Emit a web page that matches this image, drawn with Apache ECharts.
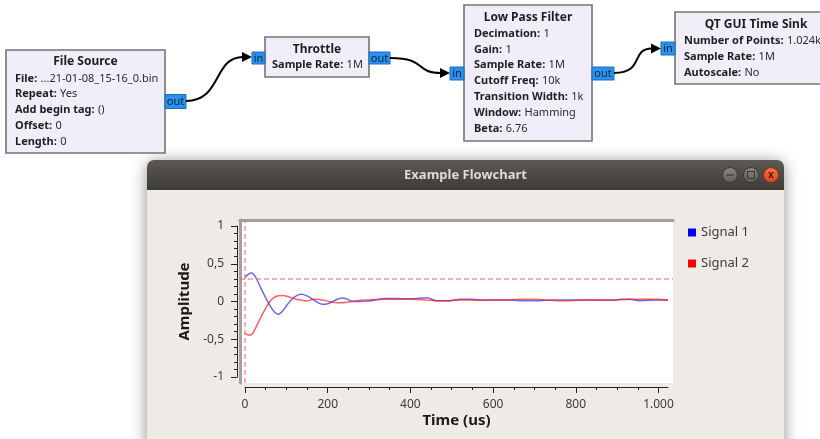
<!DOCTYPE html>
<html>
<head>
<meta charset="utf-8">
<title>Example Flowchart</title>
<script src="https://cdn.jsdelivr.net/npm/echarts@6/dist/echarts.min.js"></script>
<style>
  html, body { margin: 0; padding: 0; background: #fff; }
  #chart { width: 820px; height: 439px; }
</style>
</head>
<body>
<div id="chart"></div>
<script>
// time sink samples (time in us)
const times = [0, 8, 15, 25, 39, 50, 60, 70, 80, 92, 104, 120, 135, 150, 163, 175, 187, 200, 212, 224, 236, 248, 260, 278, 296, 315, 340, 365, 400, 440, 463, 496, 520, 544, 570, 600, 641, 665, 700, 729, 760, 782, 830, 883, 907, 930, 955, 995, 1023]
const signal1 = [0.32, 0.36, 0.377, 0.33, 0.17, 0.05, -0.05, -0.13, -0.17, -0.12, -0.03, 0.06, 0.095, 0.075, 0.03, -0.01, -0.037, -0.03, 0.0, 0.03, 0.045, 0.03, 0.0, 0.0, 0.005, 0.02, 0.04, 0.04, 0.035, 0.05, 0.01, 0.01, 0.03, 0.03, 0.02, 0.02, 0.02, 0.01, 0.01, 0.015, 0.02, 0.02, 0.02, 0.015, 0.025, 0.03, 0.01, 0.02, 0.02]
const signal2 = [-0.417, -0.445, -0.44, -0.36, -0.2, -0.09, 0.0, 0.05, 0.075, 0.08, 0.065, 0.037, 0.02, 0.01, 0.025, 0.03, 0.02, 0.005, -0.01, -0.015, -0.015, -0.01, 0.005, 0.015, 0.02, 0.025, 0.03, 0.03, 0.03, 0.02, 0.01, 0.01, 0.02, 0.02, 0.015, 0.02, 0.02, 0.03, 0.03, 0.02, 0.01, 0.01, 0.02, 0.02, 0.025, 0.03, 0.03, 0.03, 0.02]
const seriesNames = ['Signal 1', 'Signal 2']
const triggerLevel = 0.3
const triggerDelay = 0
const xMajorTicks = [0, 200, 400, 600, 800, 1000]
const xMinorTicks = [50, 100, 150, 250, 300, 350, 450, 500, 550, 650, 700, 750, 850, 900, 950]

// flowgraph block texts
const blockTitles = ['File Source', 'Throttle', 'Low Pass Filter', 'QT GUI Time Sink']
const fileSourceParams = [['File:', '...21-01-08_15-16_0.bin'], ['Repeat:', 'Yes'], ['Add begin tag:', '()'], ['Offset:', '0'], ['Length:', '0']]
const throttleParams = [['Sample Rate:', '1M']]
const lowPassParams = [['Decimation:', '1'], ['Gain:', '1'], ['Sample Rate:', '1M'], ['Cutoff Freq:', '10k'], ['Transition Width:', '1k'], ['Window:', 'Hamming'], ['Beta:', '6.76']]
const timeSinkParams = [['Number of Points:', '1.024k'], ['Sample Rate:', '1M'], ['Autoscale:', 'No']]

const FONT = '"Noto Sans", "DejaVu Sans", sans-serif'

// plot geometry: inner scale (0..1023 / -1..1) and the white canvas around it
const scaleBox = { left: 245, top: 226, width: 423, height: 151 }
const canvasBox = { left: 240, top: 220, right: 673, bottom: 383 }
const xPx = scaleBox.width / 1023
const yPx = scaleBox.height / 2
const canvasX = [(canvasBox.left - scaleBox.left) / xPx, (canvasBox.right - scaleBox.left) / xPx]
const canvasY = [-1 - (canvasBox.bottom - scaleBox.top - scaleBox.height) / yPx, 1 + (scaleBox.top - canvasBox.top) / yPx]

// block layout on the GRC canvas
const blockLayout = [
  { x: 6, y: 50, w: 159, h: 103, titleY: 62, textX: 15, textY: 78.5, step: 15.8, params: fileSourceParams,
    ports: [{ x: 165, y: 94.5, w: 21, h: 14, t: 'out' }] },
  { x: 265, y: 37, w: 104, h: 40, titleY: 49.5, textX: 272, textY: 65, step: 16, params: throttleParams,
    ports: [{ x: 252, y: 52, w: 13, h: 12, t: 'in' }, { x: 369, y: 52, w: 21, h: 12, t: 'out' }] },
  { x: 464, y: 5, w: 128, h: 136, titleY: 17.5, textX: 474, textY: 33.5, step: 15.9, params: lowPassParams,
    ports: [{ x: 450, y: 67, w: 14, h: 13, t: 'in' }, { x: 592, y: 67, w: 22, h: 13, t: 'out' }] },
  { x: 675, y: 12, w: 170, h: 72, titleY: 25, textX: 684, textY: 41, step: 15.7, params: timeSinkParams,
    titleCx: 756,
    ports: [{ x: 661, y: 42, w: 14, h: 13, t: 'in' }] }
]

const links = [
  { from: [186, 101], c1: [222, 101], c2: [213, 57], to: [243, 57] },
  { from: [390, 58], c1: [428, 58], c2: [414, 73], to: [441, 73] },
  { from: [614, 73], c1: [645, 73], c2: [630, 48.5], to: [652, 48.5] }
]

function blockElements() {
  const els = []
  blockLayout.forEach((b, i) => {
    els.push({
      type: 'rect', shape: { x: b.x, y: b.y, width: b.w, height: b.h },
      style: { fill: '#f1eefa', stroke: '#747474', lineWidth: 1.6 }
    })
    els.push({
      type: 'text', x: b.titleCx || b.x + b.w / 2, y: b.titleY,
      style: { text: blockTitles[i], fill: '#1e1e1e', font: 'bold 12px ' + FONT, align: 'center', verticalAlign: 'middle' }
    })
    b.params.forEach((p, j) => {
      els.push({
        type: 'text', x: b.textX, y: b.textY + j * b.step,
        style: {
          text: '{k|' + p[0] + '} {v|' + p[1] + '}',
          verticalAlign: 'middle',
          rich: {
            k: { fontFamily: FONT, fontSize: 11, fontWeight: 'bold', fill: '#1e1e1e', color: '#1e1e1e' },
            v: { fontFamily: FONT, fontSize: 11, fill: '#2a2a2a', color: '#2a2a2a' }
          }
        }
      })
    })
    b.ports.forEach(p => {
      els.push({
        type: 'rect', shape: { x: p.x, y: p.y, width: p.w, height: p.h },
        style: { fill: '#2a92ee', stroke: '#1a6cc0', lineWidth: 1 }
      })
      els.push({
        type: 'text', x: p.x + p.w / 2, y: p.y + p.h / 2 + 0.5,
        style: { text: p.t, fill: '#0e2238', font: '11px ' + FONT, align: 'center', verticalAlign: 'middle' }
      })
    })
  })
  links.forEach(l => {
    els.push({
      type: 'bezierCurve',
      shape: { x1: l.from[0], y1: l.from[1], cpx1: l.c1[0], cpy1: l.c1[1], cpx2: l.c2[0], cpy2: l.c2[1], x2: l.to[0], y2: l.to[1] },
      style: { stroke: '#000', lineWidth: 2, fill: null }
    })
    els.push({
      type: 'polygon',
      shape: { points: [[l.to[0] - 1, l.to[1] - 5], [l.to[0] + 9, l.to[1]], [l.to[0] - 1, l.to[1] + 5]] },
      style: { fill: '#000' }
    })
  })
  return els
}

function windowElements() {
  const win = { x: 147, y: 160, w: 637, h: 320 }
  const barGrad = new echarts.graphic.LinearGradient(0, 0, 0, 1, [
    { offset: 0, color: '#5c5953' },
    { offset: 1, color: '#3d3b37' }
  ])
  const greyBtn = new echarts.graphic.LinearGradient(0, 0, 0, 1, [
    { offset: 0, color: '#8a8883' },
    { offset: 1, color: '#5f5d58' }
  ])
  const redBtn = new echarts.graphic.LinearGradient(0, 0, 0, 1, [
    { offset: 0, color: '#f4734a' },
    { offset: 1, color: '#d9461b' }
  ])
  const cy = win.y + 15
  return [
    {
      type: 'rect', z: -20, shape: { x: win.x, y: win.y, width: win.w, height: win.h, r: [7, 7, 0, 0] },
      style: { fill: '#eeebe7', shadowBlur: 16, shadowColor: 'rgba(0,0,0,0.45)', shadowOffsetY: 2 }
    },
    {
      type: 'rect', z: -19, shape: { x: win.x, y: win.y, width: win.w, height: 30, r: [7, 7, 0, 0] },
      style: { fill: barGrad }
    },
    {
      type: 'text', z: -18, x: win.x + win.w / 2, y: cy,
      style: { text: 'Example Flowchart', fill: '#dfdbd2', font: 'bold 13px ' + FONT, align: 'center', verticalAlign: 'middle' }
    },
    { type: 'circle', z: -18, shape: { cx: 730, cy: cy, r: 7.5 }, style: { fill: greyBtn, stroke: '#3a3834', lineWidth: 1 } },
    { type: 'line', z: -17, shape: { x1: 726.5, y1: cy, x2: 733.5, y2: cy }, style: { stroke: '#3b3a36', lineWidth: 1.2 } },
    { type: 'circle', z: -18, shape: { cx: 751, cy: cy, r: 7.5 }, style: { fill: greyBtn, stroke: '#3a3834', lineWidth: 1 } },
    { type: 'rect', z: -17, shape: { x: 747.5, y: cy - 3.5, width: 7, height: 7 }, style: { fill: null, stroke: '#3b3a36', lineWidth: 1.1 } },
    { type: 'circle', z: -18, shape: { cx: 771, cy: cy, r: 7.5 }, style: { fill: redBtn, stroke: '#8e2d0f', lineWidth: 1 } },
    {
      type: 'text', z: -17, x: 771, y: cy + 0.5,
      style: { text: 'x', fill: '#5a1a05', font: 'bold 10px ' + FONT, align: 'center', verticalAlign: 'middle' }
    }
  ]
}

const decimalLabel = v => String(v).replace('.', ',')
const thousandsLabel = v => String(v).replace(/\B(?=(\d{3})+$)/, '.')

const chart = echarts.init(document.getElementById('chart'), null, { renderer: 'canvas' })

chart.setOption({
  animation: false,
  textStyle: { fontFamily: FONT },
  graphic: { elements: windowElements().concat(blockElements()) },
  legend: {
    orient: 'vertical',
    left: 683,
    top: 221,
    itemWidth: 8,
    itemHeight: 8,
    itemGap: 18,
    textStyle: { fontFamily: FONT, fontSize: 13, color: '#3a3a3a' },
    data: [
      { name: seriesNames[0], icon: 'rect', itemStyle: { color: '#0000ff' } },
      { name: seriesNames[1], icon: 'rect', itemStyle: { color: '#ff0000' } }
    ]
  },
  grid: [
    {
      left: canvasBox.left, top: canvasBox.top,
      width: canvasBox.right - canvasBox.left, height: canvasBox.bottom - canvasBox.top,
      show: true, backgroundColor: '#ffffff', borderWidth: 0
    },
    { left: scaleBox.left, top: scaleBox.top, width: scaleBox.width, height: scaleBox.height }
  ],
  xAxis: [
    {
      gridIndex: 0, type: 'value', position: 'top', min: canvasX[0], max: canvasX[1],
      axisLine: { show: true, onZero: false, lineStyle: { color: '#a2a09c', width: 3 } },
      axisTick: { show: false }, axisLabel: { show: false }, splitLine: { show: false }
    },
    {
      gridIndex: 1, type: 'value', position: 'bottom', offset: 10, min: 0, max: 1023,
      name: 'Time (us)', nameLocation: 'middle', nameGap: 26,
      nameTextStyle: { fontFamily: FONT, fontSize: 15, fontWeight: 'bold', color: '#1a1a1a' },
      axisLine: { show: true, onZero: false, lineStyle: { color: '#222', width: 1 } },
      axisTick: { show: true, length: 6, customValues: xMajorTicks, lineStyle: { color: '#222' } },
      axisLabel: {
        customValues: xMajorTicks, margin: 12, formatter: thousandsLabel,
        fontFamily: FONT, fontSize: 12, color: '#3a3a3a'
      },
      splitLine: { show: false }
    },
    {
      gridIndex: 1, type: 'value', position: 'bottom', offset: 10, min: 0, max: 1023,
      axisLine: { show: false, onZero: false },
      axisTick: { show: true, length: 3, customValues: xMinorTicks, lineStyle: { color: '#222' } },
      axisLabel: { show: false },
      splitLine: { show: false }
    }
  ],
  yAxis: [
    {
      gridIndex: 0, type: 'value', position: 'left', min: canvasY[0], max: canvasY[1],
      axisLine: { show: true, onZero: false, lineStyle: { color: '#a2a09c', width: 3 } },
      axisTick: { show: false }, axisLabel: { show: false }, splitLine: { show: false }
    },
    {
      gridIndex: 1, type: 'value', position: 'left', offset: 8, min: -1, max: 1, interval: 0.5,
      name: 'Amplitude', nameLocation: 'middle', nameGap: 44, nameRotate: 90,
      nameTextStyle: { fontFamily: FONT, fontSize: 15, fontWeight: 'bold', color: '#1a1a1a' },
      axisLine: { show: true, onZero: false, lineStyle: { color: '#222', width: 1 } },
      axisTick: { show: true, length: 6, lineStyle: { color: '#222' } },
      minorTick: { show: true, splitNumber: 5, length: 3, lineStyle: { color: '#222' } },
      axisLabel: { margin: 13, formatter: decimalLabel, fontFamily: FONT, fontSize: 12, color: '#3a3a3a' },
      splitLine: { show: false }
    }
  ],
  series: [
    {
      name: seriesNames[0],
      type: 'line',
      xAxisIndex: 0,
      yAxisIndex: 0,
      data: times.map((t, i) => [t, signal1[i]]),
      smooth: 0.35,
      showSymbol: false,
      itemStyle: { color: '#0000ff' },
      lineStyle: { color: 'rgba(40, 40, 255, 0.7)', width: 1.5 },
      markLine: {
        silent: true,
        symbol: 'none',
        label: { show: false },
        lineStyle: { color: 'rgba(255, 90, 90, 0.5)', type: [5, 3], width: 2 },
        data: [{ yAxis: triggerLevel }, { xAxis: triggerDelay }]
      }
    },
    {
      name: seriesNames[1],
      type: 'line',
      xAxisIndex: 0,
      yAxisIndex: 0,
      data: times.map((t, i) => [t, signal2[i]]),
      smooth: 0.35,
      showSymbol: false,
      itemStyle: { color: '#ff0000' },
      lineStyle: { color: 'rgba(255, 30, 30, 0.7)', width: 1.5 }
    }
  ]
})
</script>
</body>
</html>
